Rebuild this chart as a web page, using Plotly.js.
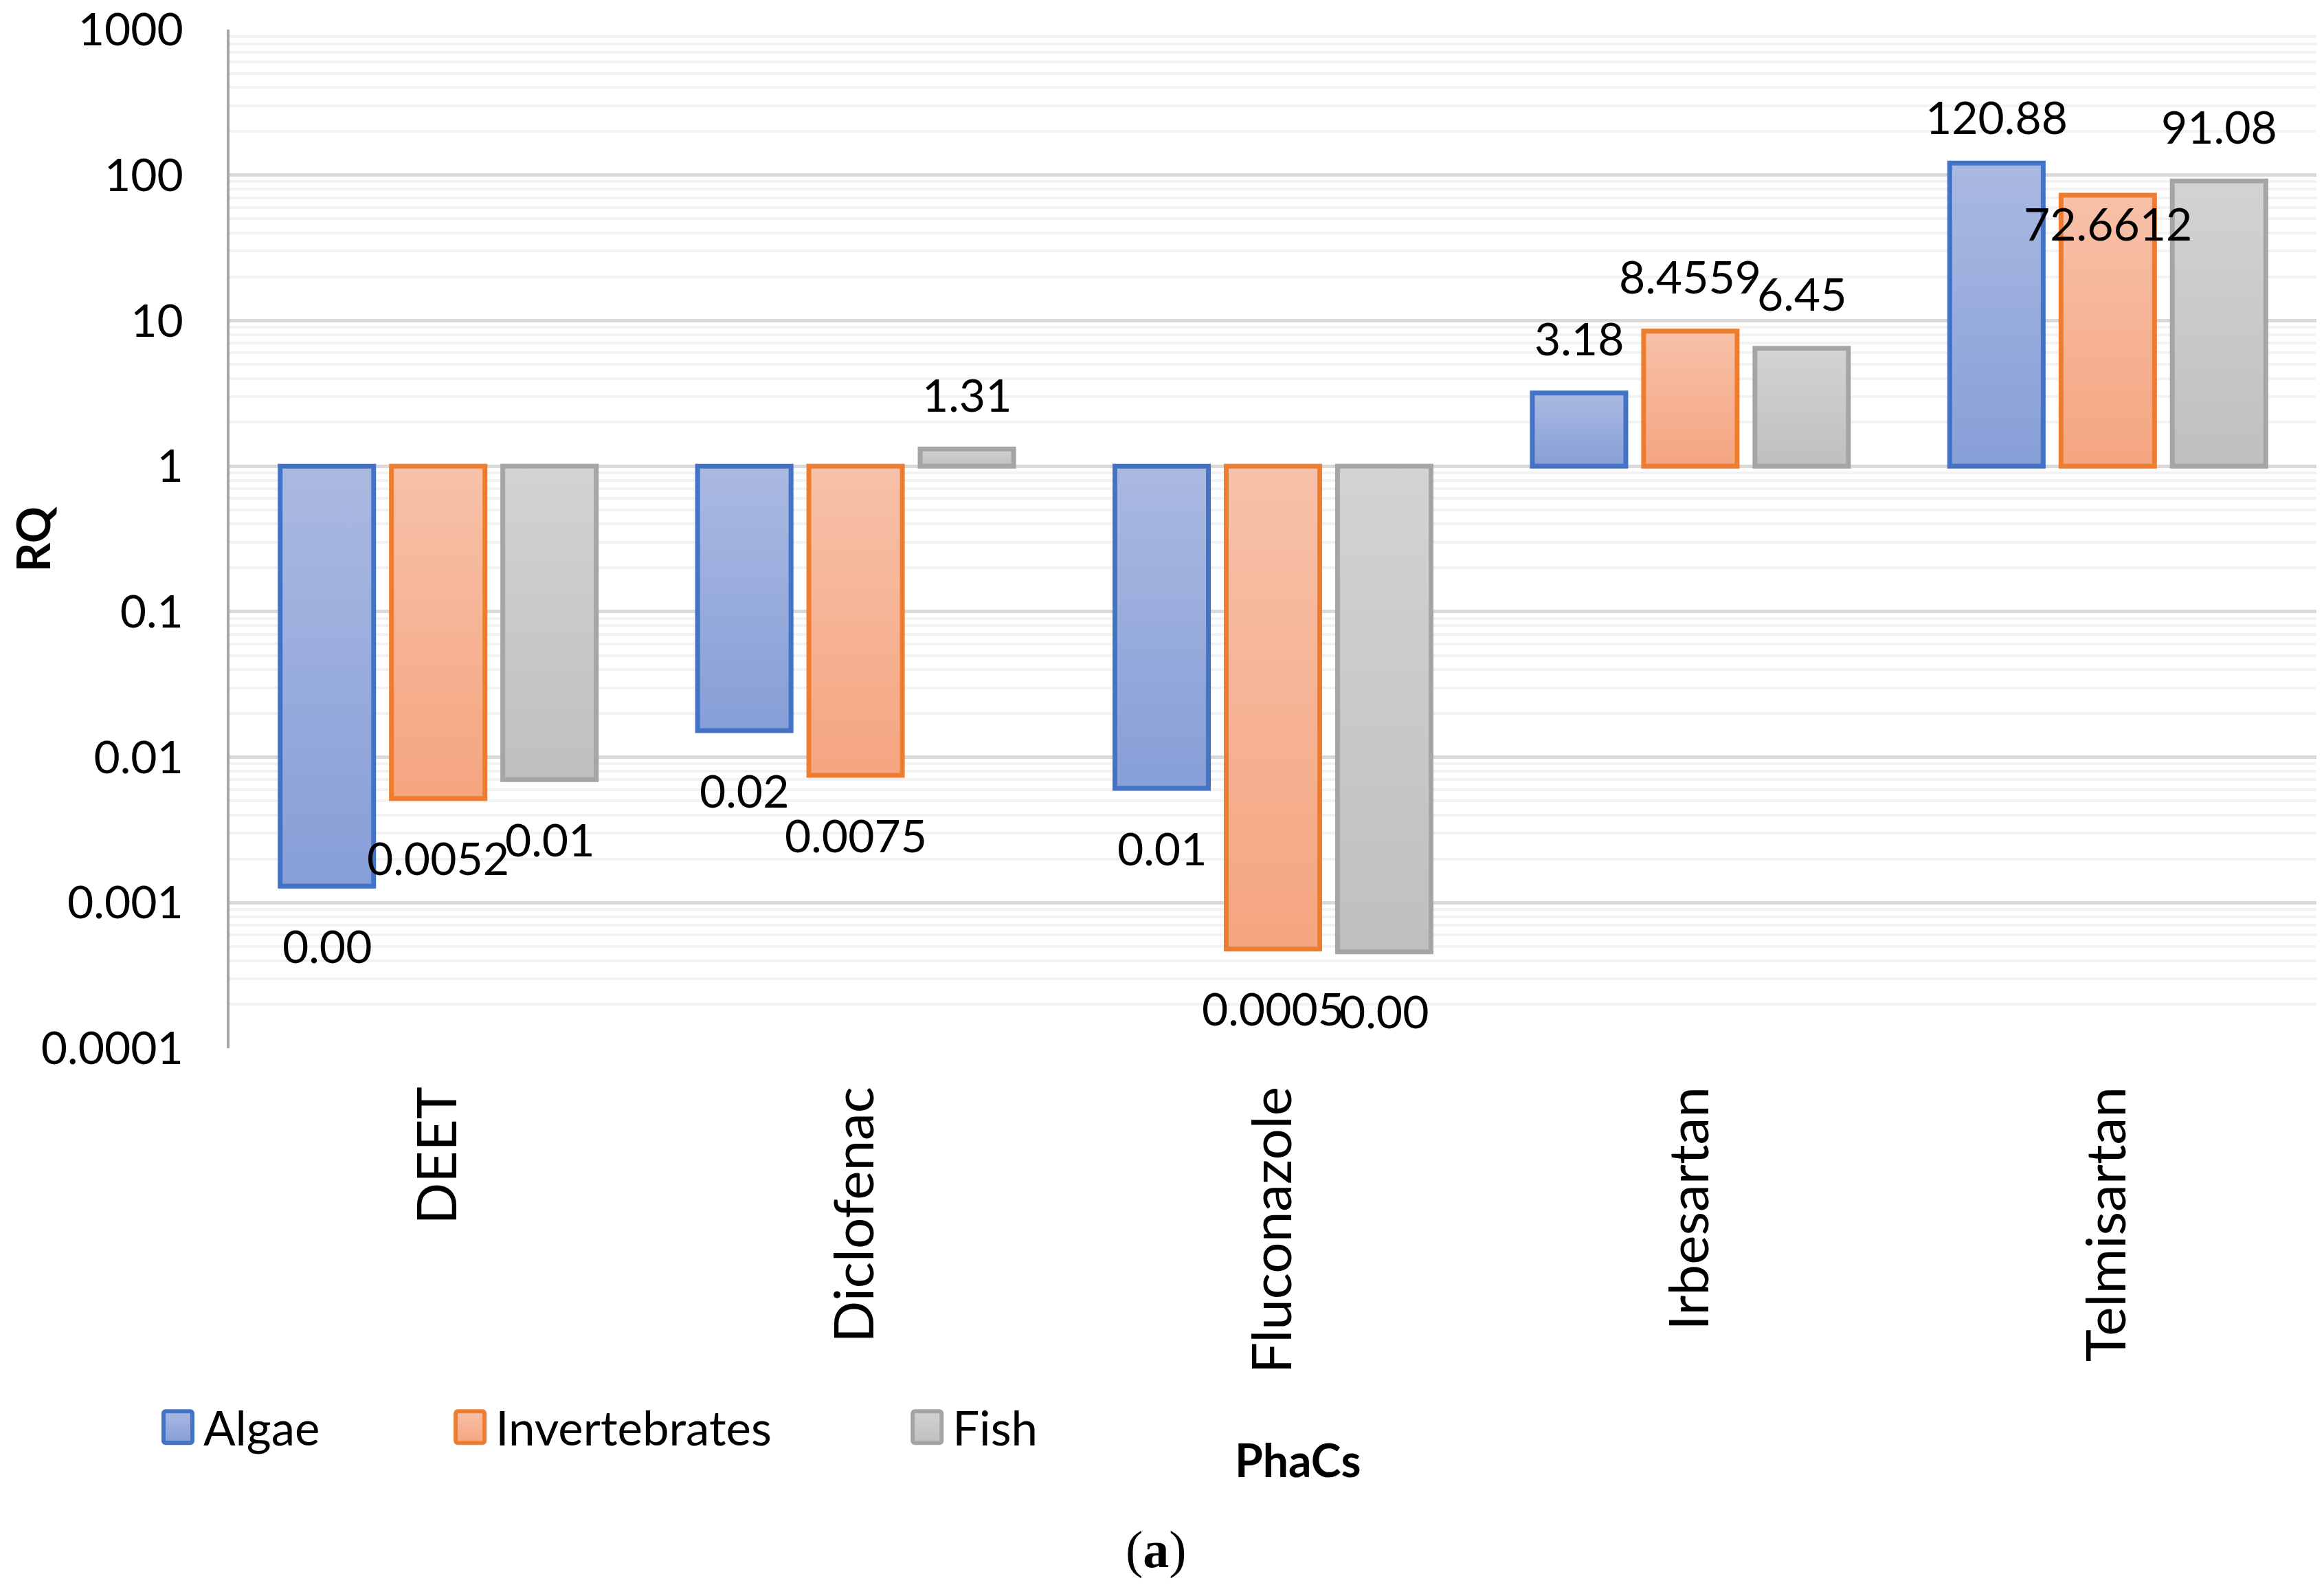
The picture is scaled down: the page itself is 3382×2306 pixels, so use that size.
<!DOCTYPE html>
<html>
<head>
<meta charset="utf-8">
<script src="https://cdn.plot.ly/plotly-3.0.1.min.js"></script>
<style>
  html, body { margin: 0; padding: 0; background: #ffffff; }
  #wrap { position: relative; width: 3382px; height: 2306px; }
  #chart { width: 3382px; height: 2306px; }
  #chart .legendpoints { opacity: 0; }
  #swatches { position: absolute; left: 0; top: 0; pointer-events: none; }
</style>
</head>
<body>
<div id="wrap">
<div id="chart"></div>
<svg id="swatches" width="3382" height="2306" xmlns="http://www.w3.org/2000/svg"></svg>
</div>
<script>
// ---- data ----
const categories = ['DEET', 'Diclofenac', 'Fluconazole', 'Irbesartan', 'Telmisartan'];
const seriesNames = ['Algae', 'Invertebrates', 'Fish'];
const algae = [0.0013, 0.0152, 0.0061, 3.18, 120.88];
const invertebrates = [0.0052, 0.0075, 0.00048, 8.4559, 72.6612];
const fish = [0.0070, 1.31, 0.00046, 6.45, 91.08];
const algaeLabels = ['0.00', '0.02', '0.01', '3.18', '120.88'];
const invertebrateLabels = ['0.0052', '0.0075', '0.0005', '8.4559', '72.6612'];
const fishLabels = ['0.01', '1.31', '0.00', '6.45', '91.08'];
const yTickVals = [0.0001, 0.001, 0.01, 0.1, 1, 10, 100, 1000];
const yTickText = ['0.0001', '0.001', '0.01', '0.1', '1', '10', '100', '1000'];

// ---- styling ----
const FONT = 'Lato, "Open Sans", sans-serif';
const fills = ['#98acdb', '#f5b293', '#c8c8c8'];
const borders = ['#4472c4', '#ed7d31', '#a5a5a5'];
const gradStops = [['#aab9e1', '#869fd7'], ['#f7c1a9', '#f5a580'], ['#d3d3d3', '#bfbfbf']];
const BARGAP = 0.2, BARGROUPGAP = 0.16;
const baseline = 1;

const allValues = [algae, invertebrates, fish];
const allLabels = [algaeLabels, invertebrateLabels, fishLabels];
const legendIds = ['legend', 'legend2', 'legend3'];
const legendXs = [-0.0257, 0.1143, 0.3333];

const traces = allValues.map((vals, j) => ({
  type: 'bar',
  name: seriesNames[j],
  x: categories,
  base: baseline,
  y: vals.map(v => v - baseline),
  marker: { color: fills[j], line: { color: borders[j], width: 7 } },
  legend: legendIds[j],
  hoverinfo: 'skip'
}));

// data labels as annotations (Excel-like placement)
const slot = (1 - BARGAP) / 3;
const annotations = [];
allValues.forEach((vals, j) => {
  vals.forEach((v, i) => {
    let shift = v >= baseline ? 80 : -86;
    if (j === 1 && i === 4) shift = -40; // label sits just inside the bar top in the reference
    if (j === 0 && i === 4) shift = 68;
    annotations.push({
      xref: 'x', yref: 'y',
      x: i + (j - 1) * slot,
      y: Math.log10(v),
      text: allLabels[j][i],
      showarrow: false,
      xanchor: 'center', yanchor: 'middle',
      yshift: shift,
      font: { family: FONT, size: 66, color: '#000000' }
    });
  });
});
annotations.push({
  xref: 'paper', yref: 'paper', x: -0.0945, y: 0.5,
  text: '<b>RQ</b>', textangle: -90, showarrow: false,
  xanchor: 'center', yanchor: 'middle',
  font: { family: FONT, size: 66, color: '#000000' }
});
annotations.push({
  xref: 'paper', yref: 'paper', x: 0.512, y: -0.404,
  text: '<b>PhaCs</b>', showarrow: false,
  xanchor: 'center', yanchor: 'middle',
  font: { family: FONT, size: 66, color: '#000000' }
});
annotations.push({
  xref: 'paper', yref: 'paper', x: 0.444, y: -0.492,
  text: '(<b>a</b>)', showarrow: false,
  xanchor: 'center', yanchor: 'middle',
  font: { family: '"Liberation Serif", "DejaVu Serif", serif', size: 76, color: '#000000' }
});

const legendBase = {
  orientation: 'h', xanchor: 'left', yanchor: 'middle', y: -0.372,
  font: { family: FONT, size: 69, color: '#000000' },
  bgcolor: 'rgba(0,0,0,0)', itemclick: false, itemdoubleclick: false
};

const margin = { l: 334, r: 11, t: 43, b: 781, pad: 0 };
const W = 3382, H = 2306;

const layout = {
  width: W, height: H,
  margin: margin,
  paper_bgcolor: '#ffffff', plot_bgcolor: '#ffffff',
  barmode: 'group', bargap: BARGAP, bargroupgap: BARGROUPGAP,
  font: { family: FONT, size: 66, color: '#000000' },
  showlegend: true,
  xaxis: {
    type: 'category', range: [-0.5, 4.5],
    showgrid: false, zeroline: false, showline: false,
    ticks: '', tickangle: -90, ticklabelstandoff: 39,
    tickfont: { family: FONT, size: 80, color: '#000000' },
    fixedrange: true
  },
  yaxis: {
    type: 'log', range: [-4, 3],
    tickvals: yTickVals, ticktext: yTickText,
    showgrid: true, gridcolor: '#d9d9d9', gridwidth: 5,
    minor: { dtick: 'D1', showgrid: true, gridcolor: '#f2f2f2', gridwidth: 4, ticks: '' },
    showline: true, linecolor: '#a6a6a6', linewidth: 4,
    zeroline: false, ticks: '', ticklabelstandoff: 50,
    tickfont: { family: FONT, size: 66, color: '#000000' },
    fixedrange: true
  },
  annotations: annotations
};
legendIds.forEach((id, j) => { layout[id] = Object.assign({}, legendBase, { x: legendXs[j] }); });

const NS = 'http://www.w3.org/2000/svg';

function ensureGradients(container) {
  if (container.querySelector('defs.custom-grads')) return;
  const defs = document.createElementNS(NS, 'defs');
  defs.setAttribute('class', 'custom-grads');
  gradStops.forEach((stops, j) => {
    const lg = document.createElementNS(NS, 'linearGradient');
    lg.setAttribute('id', container.id + 'Grad' + j);
    lg.setAttribute('x1', '0'); lg.setAttribute('y1', '0');
    lg.setAttribute('x2', '0'); lg.setAttribute('y2', '1');
    stops.forEach((c, k) => {
      const st = document.createElementNS(NS, 'stop');
      st.setAttribute('offset', k === 0 ? '0%' : '100%');
      st.setAttribute('stop-color', c);
      lg.appendChild(st);
    });
    defs.appendChild(lg);
  });
  container.insertBefore(defs, container.firstChild);
}

function decorate(gd) {
  const svg = gd.querySelector('svg.main-svg');
  if (!svg.id) svg.id = 'plotsvg';
  ensureGradients(svg);
  gd.querySelectorAll('.barlayer .trace').forEach((tr, j) => {
    tr.querySelectorAll('path').forEach(p => { p.style.fill = 'url(#plotsvgGrad' + j + ')'; });
  });
  // Excel-sized legend swatches, placed from each legend's layout position
  const over = document.getElementById('swatches');
  ensureGradients(over);
  over.querySelectorAll('rect').forEach(r => r.remove());
  const plotW = W - margin.l - margin.r, plotH = H - margin.t - margin.b;
  const cy = margin.t + (1 - legendBase.y) * plotH;
  legendXs.forEach((lx, j) => {
    const left = margin.l + lx * plotW;
    const cx = left + 3;
    const w = 42, h = 46;
    const r = document.createElementNS(NS, 'rect');
    r.setAttribute('x', cx - w / 2); r.setAttribute('y', cy - h / 2);
    r.setAttribute('width', w); r.setAttribute('height', h);
    r.setAttribute('rx', 3);
    r.setAttribute('fill', 'url(#swatchesGrad' + j + ')');
    r.setAttribute('stroke', borders[j]);
    r.setAttribute('stroke-width', 6);
    over.appendChild(r);
  });
}

Plotly.newPlot('chart', traces, layout, { staticPlot: true, displayModeBar: false }).then(gd => {
  decorate(gd);
});
</script>
</body>
</html>
